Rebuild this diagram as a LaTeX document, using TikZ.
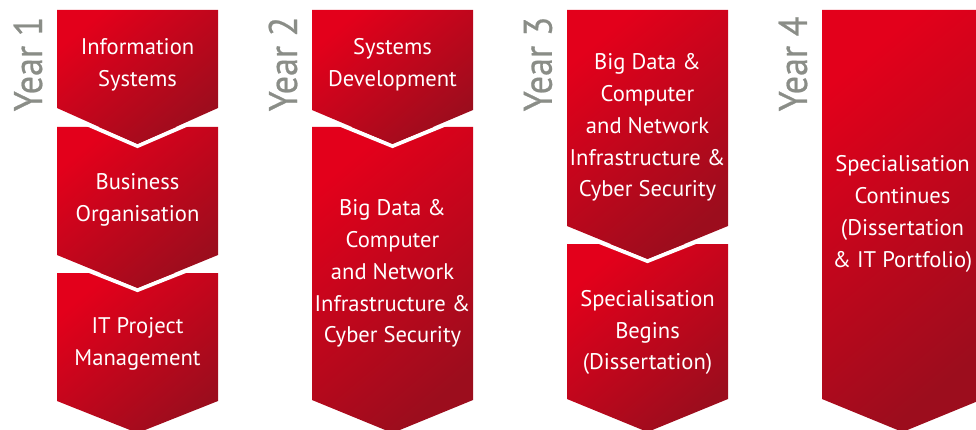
\documentclass[tikz,border=0pt]{standalone}
\usepackage{fontspec}
\setmainfont{PT Sans}
\newfontfamily\yearfont[FakeStretch=0.9,FakeBold=0.6]{PT Sans}
\definecolor{redA}{HTML}{E3001B}
\definecolor{redB}{HTML}{9C0D1D}
\definecolor{yeargray}{HTML}{8A8D87}
\newcommand\chevbox[4]{\path[chev] (#1,#2) -- (#1+161,#2) -- (#1+161,#3) -- (#1+80.5,#4) -- (#1,#3) -- cycle;}
\newcommand\chevcut[3]{\draw[gapline] (#1-3,#2+2) -- (#1+80.5,#3+2) -- (#1+164,#2+2);}
\begin{document}
\begin{tikzpicture}[x=1pt,y=-1pt,
  chev/.style={shading=axis, top color=redA, bottom color=redB, shading angle=40},
  gapline/.style={draw=white, line width=4pt},
  boxtext/.style={text=white, align=center, inner sep=0pt, font=\fontsize{22.6}{31.8}\selectfont},
  yearlabel/.style={text=yeargray, rotate=90, inner sep=0pt, font=\yearfont\fontsize{40}{40}\selectfont}]
\useasboundingbox (0,0) rectangle (976,430);
\clip (0,0) rectangle (976,430);
% Year 1
\chevbox{57}{273}{401}{433}
\chevcut{57}{255}{288}
\chevbox{57}{127}{255}{288}
\chevcut{57}{108}{144}
\chevbox{57}{10}{108}{144}
% Year 2
\chevbox{312}{127}{400}{433}
\chevcut{312}{110}{144}
\chevbox{312}{10}{110}{144}
% Year 3
\chevbox{567}{244}{399}{432}
\chevcut{567}{226}{259}
\chevbox{567}{10}{226}{259}
% Year 4
\chevbox{822}{10}{399}{432}
% texts
\node[boxtext] (y1a) at (137.5,64.5) {Information\\Systems};
\node[boxtext] (y1b) at (137.5,200) {Business\\Organisation};
\node[boxtext] (y1c) at (137.5,344) {IT Project\\Management};
\node[boxtext] (y2a) at (392.5,64.5) {Systems\\Development};
\node[boxtext] (y2b) at (392.5,273.5) {Big Data \&\\Computer\\and Network\\Infrastructure \&\\Cyber Security};
\node[boxtext] (y3a) at (647.5,127.5) {Big Data \&\\Computer\\and Network\\Infrastructure \&\\Cyber Security};
\node[boxtext] (y3b) at (647.5,332.5) {Specialisation\\Begins\\(Dissertation)};
\node[boxtext] (y4a) at (902.5,214) {Specialisation\\Continues\\(Dissertation\\\& IT Portfolio)};
% year labels
\node[yearlabel] (yr1) at (28,64) {Year 1};
\node[yearlabel] (yr2) at (283,64) {Year 2};
\node[yearlabel] (yr3) at (538,64) {Year 3};
\node[yearlabel] (yr4) at (793,64) {Year 4};
\end{tikzpicture}
\end{document}
